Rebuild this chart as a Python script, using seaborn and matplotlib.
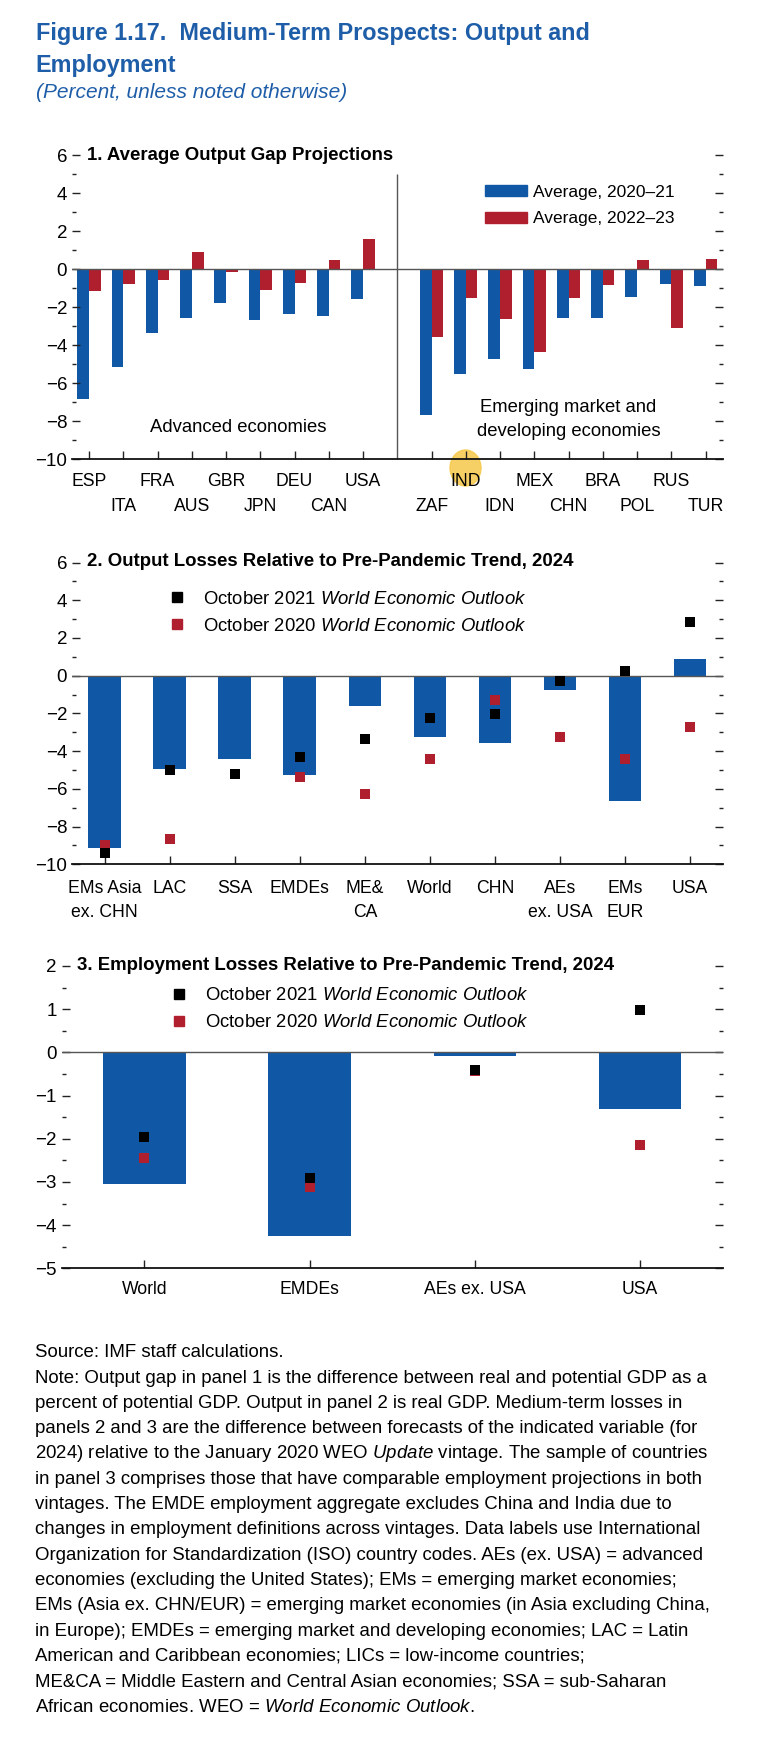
import numpy as np
import pandas as pd
import matplotlib
matplotlib.use("Agg")
import matplotlib.pyplot as plt
import seaborn as sns
from matplotlib.lines import Line2D
from matplotlib.patches import Patch, Ellipse
from matplotlib.ticker import MultipleLocator

FONT = "Liberation Sans"
plt.rcParams["font.family"] = [FONT, "DejaVu Sans"]
plt.rcParams["mathtext.fontset"] = "custom"
plt.rcParams["mathtext.rm"] = FONT
plt.rcParams["mathtext.it"] = FONT + ":italic"
plt.rcParams["mathtext.bf"] = FONT + ":bold"

BLUE = "#1058A6"
RED = "#B01F2E"
TITLE_BLUE = "#1E5DA8"

# --- panel 1 data ---
adv_countries = ["ESP", "ITA", "FRA", "AUS", "GBR", "JPN", "DEU", "CAN", "USA"]
emde_countries = ["ZAF", "IND", "IDN", "MEX", "CHN", "BRA", "POL", "RUS", "TUR"]
periods = ["Average, 2020–21", "Average, 2022–23"]
gap_2020_21_adv = [-6.84, -5.12, -3.33, -2.58, -1.79, -2.67, -2.37, -2.47, -1.56]
gap_2022_23_adv = [-1.16, -0.77, -0.58, 0.89, -0.16, -1.07, -0.74, 0.51, 1.58]
gap_2020_21_emde = [-7.68, -5.51, -4.74, -5.23, -2.56, -2.56, -1.44, -0.77, -0.88]
gap_2022_23_emde = [-3.54, -1.49, -2.61, -4.33, -1.49, -0.82, 0.49, -3.11, 0.56]

# --- panel 2 data ---
regions = ["EMs Asia\nex. CHN", "LAC", "SSA", "EMDEs", "ME&\nCA", "World", "CHN",
           "AEs\nex. USA", "EMs\nEUR", "USA"]
output_loss = [-9.15, -4.93, -4.40, -5.27, -1.61, -3.27, -3.55, -0.78, -6.63, 0.88]
output_oct2021 = [-9.42, -5.00, -5.19, -4.31, -3.34, -2.26, -2.05, -0.28, 0.27, 2.84]
output_oct2020 = [-8.98, -8.64, np.nan, -5.35, -6.25, -4.40, -1.29, -3.23, -4.40, -2.70]

# --- panel 3 data ---
emp_groups = ["World", "EMDEs", "AEs ex. USA", "USA"]
emp_loss = [-3.06, -4.26, -0.08, -1.31]
emp_oct2021 = [-1.97, -2.90, -0.42, 0.99]
emp_oct2020 = [-2.44, -3.12, -0.44, -2.15]

legend_2021 = r"October 2021 $\it{World\ Economic\ Outlook}$"
legend_2020 = r"October 2020 $\it{World\ Economic\ Outlook}$"

# font sizes (pt)
TICK_FS = 13.5
CAT_FS = 12.7
PANEL_TITLE_FS = 13.4
LEG_FS = 13.3
NOTE_FS = 13.45

W, H = 759, 1738
fig = plt.figure(figsize=(W / 100, H / 100), dpi=100)


def fx(px):
    return px / W


def fy(py):
    return 1 - py / H


def px_axes(left, top, right, bottom):
    return fig.add_axes([fx(left), fy(bottom), (right - left) / W, (bottom - top) / H])


def style_axis(ax, ymin, ymax, major, minor, xpad):
    ax.set_ylim(ymin, ymax)
    ax.yaxis.set_major_locator(MultipleLocator(major))
    ax.yaxis.set_minor_locator(MultipleLocator(minor))
    for s in ["top", "left", "right"]:
        ax.spines[s].set_visible(False)
    ax.spines["bottom"].set_linewidth(1.3)
    ax.spines["bottom"].set_color("#111111")
    ax.tick_params(axis="y", which="both", direction="in", left=True, right=True,
                   labelleft=True, labelright=False, width=1, color="#222222",
                   labelsize=TICK_FS, pad=3.5)
    ax.tick_params(axis="y", which="major", length=5.8)
    ax.tick_params(axis="y", which="minor", length=3)
    ax.tick_params(axis="x", which="both", direction="in", length=5.8, width=1,
                   color="#222222", labelsize=CAT_FS, pad=xpad)
    ax.axhline(0, color="#555555", lw=1, zorder=3)
    ax.set_xlabel("")
    ax.set_ylabel("")
    ax.set_facecolor("none")


def marker_legend(ax, left, top, pad, spacing):
    ax.legend(handles=[Line2D([], [], marker="s", ls="none", color="black", markersize=7.2),
                       Line2D([], [], marker="s", ls="none", color=RED, markersize=7.2)],
              labels=[legend_2021, legend_2020], loc="upper left",
              bbox_to_anchor=(fx(left), fy(top)), bbox_transform=fig.transFigure,
              frameon=False, fontsize=LEG_FS, borderpad=0, borderaxespad=0,
              handlelength=1, handletextpad=pad, labelspacing=spacing)


# ---------- Panel 1 ----------
ax1 = px_axes(72, 155.3, 722.7, 459.3)
order1 = adv_countries + [" "] + emde_countries
df1 = pd.DataFrame({
    "country": (adv_countries + emde_countries) * 2,
    "period": [periods[0]] * 18 + [periods[1]] * 18,
    "value": gap_2020_21_adv + gap_2020_21_emde + gap_2022_23_adv + gap_2022_23_emde,
})
sns.barplot(data=df1, x="country", y="value", hue="period", order=order1,
            hue_order=periods, palette=[BLUE, RED], width=0.68, saturation=1,
            errorbar=None, linewidth=0, legend=False, ax=ax1)
style_axis(ax1, -10, 6, 2, 1, 10)
ax1.set_xlim(-0.5, len(order1) - 0.5)
# country codes alternate between two label rows (upper row = major ticks)
row1 = adv_countries[0::2] + emde_countries[1::2]
row2 = adv_countries[1::2] + emde_countries[0::2]
ax1.set_xticks([order1.index(c) for c in row1], row1)
ax1.set_xticks([order1.index(c) for c in row2], row2, minor=True)
ax1.tick_params(axis="x", which="minor", pad=28)
ax1.vlines(order1.index(" "), -10, 5, color="#555555", lw=1)
ax1.text(4.35, -8.3, "Advanced economies", ha="center", va="center", fontsize=LEG_FS)
ax1.text(14, -7.9, "Emerging market and\ndeveloping economies", ha="center",
         va="center", fontsize=LEG_FS, linespacing=1.55)
ax1.legend(handles=[Patch(color=BLUE, label=periods[0]), Patch(color=RED, label=periods[1])],
           loc="upper left", bbox_to_anchor=(fx(485), fy(185)), bbox_transform=fig.transFigure,
           frameon=False, fontsize=12.5, borderpad=0, borderaxespad=0,
           handlelength=2.41, handleheight=0.61, handletextpad=0.33, labelspacing=0.65)
# yellow highlight behind the IND label
ax1.add_patch(Ellipse((fx(465.5), fy(468)), 31 / W, 36 / H, transform=fig.transFigure,
                      color="#F6C84A", alpha=0.85, zorder=0, clip_on=False))
fig.text(fx(87), fy(156), "1. Average Output Gap Projections", fontsize=PANEL_TITLE_FS,
         fontweight="bold", va="center")

# ---------- Panel 2 ----------
ax2 = px_axes(72, 562.5, 722.7, 864.3)
sns.barplot(x=regions, y=output_loss, order=regions, color=BLUE, width=0.5,
            saturation=1, errorbar=None, linewidth=0, ax=ax2)
sns.stripplot(x=regions, y=output_oct2020, order=regions, jitter=False, marker="s",
              size=7.2, color=RED, linewidth=0, zorder=4, ax=ax2)
sns.stripplot(x=regions, y=output_oct2021, order=regions, jitter=False, marker="s",
              size=7.2, color="black", linewidth=0, zorder=5, ax=ax2)
style_axis(ax2, -10, 6, 2, 1, 11)
ax2.set_xlim(-0.5, len(regions) - 0.5)
for t in ax2.get_xticklabels():
    t.set_linespacing(1.55)
marker_legend(ax2, 167.5, 590.7, 0.92, 0.55)
fig.text(fx(87), fy(562), "2. Output Losses Relative to Pre-Pandemic Trend, 2024",
         fontsize=PANEL_TITLE_FS, fontweight="bold", va="center")

# ---------- Panel 3 ----------
ax3 = px_axes(61.7, 965.9, 722.7, 1268.3)
sns.barplot(x=emp_groups, y=emp_loss, order=emp_groups, color=BLUE, width=0.5,
            saturation=1, errorbar=None, linewidth=0, ax=ax3)
sns.stripplot(x=emp_groups, y=emp_oct2020, order=emp_groups, jitter=False, marker="s",
              size=7.2, color=RED, linewidth=0, zorder=4, ax=ax3)
sns.stripplot(x=emp_groups, y=emp_oct2021, order=emp_groups, jitter=False, marker="s",
              size=7.2, color="black", linewidth=0, zorder=5, ax=ax3)
style_axis(ax3, -5, 2, 1, 0.5, 9.5)
ax3.set_xlim(-0.5, len(emp_groups) - 0.5)
marker_legend(ax3, 169.7, 987.5, 0.91, 0.52)
fig.text(fx(77), fy(965), "3. Employment Losses Relative to Pre-Pandemic Trend, 2024",
         fontsize=PANEL_TITLE_FS, fontweight="bold", va="center")

# ---------- headings ----------
fig.text(fx(35.7), fy(40), "Figure 1.17.  Medium-Term Prospects: Output and",
         fontsize=16.8, fontweight="bold", color=TITLE_BLUE, va="baseline")
fig.text(fx(35.7), fy(72), "Employment", fontsize=16.8, fontweight="bold",
         color=TITLE_BLUE, va="baseline")
fig.text(fx(35.7), fy(97.5), "(Percent, unless noted otherwise)", fontsize=15,
         style="italic", color=TITLE_BLUE, va="baseline")

# ---------- notes ----------
notes = [
    "Source: IMF staff calculations.",
    "Note: Output gap in panel 1 is the difference between real and potential GDP as a",
    "percent of potential GDP. Output in panel 2 is real GDP. Medium-term losses in",
    "panels 2 and 3 are the difference between forecasts of the indicated variable (for",
    r"2024) relative to the January 2020 WEO $\it{Update}$ vintage. The sample of countries",
    "in panel 3 comprises those that have comparable employment projections in both",
    "vintages. The EMDE employment aggregate excludes China and India due to",
    "changes in employment definitions across vintages. Data labels use International",
    "Organization for Standardization (ISO) country codes. AEs (ex. USA) = advanced",
    "economies (excluding the United States); EMs = emerging market economies;",
    "EMs (Asia ex. CHN/EUR) = emerging market economies (in Asia excluding China,",
    "in Europe); EMDEs = emerging market and developing economies; LAC = Latin",
    "American and Caribbean economies; LICs = low-income countries;",
    "ME&CA = Middle Eastern and Central Asian economies; SSA = sub-Saharan",
    r"African economies. WEO = $\it{World\ Economic\ Outlook}$.",
]
for i, line in enumerate(notes):
    fig.text(fx(35), fy(1357.3 + i * 25.3), line, fontsize=NOTE_FS, va="baseline")

fig.savefig("out.png", dpi=100)
